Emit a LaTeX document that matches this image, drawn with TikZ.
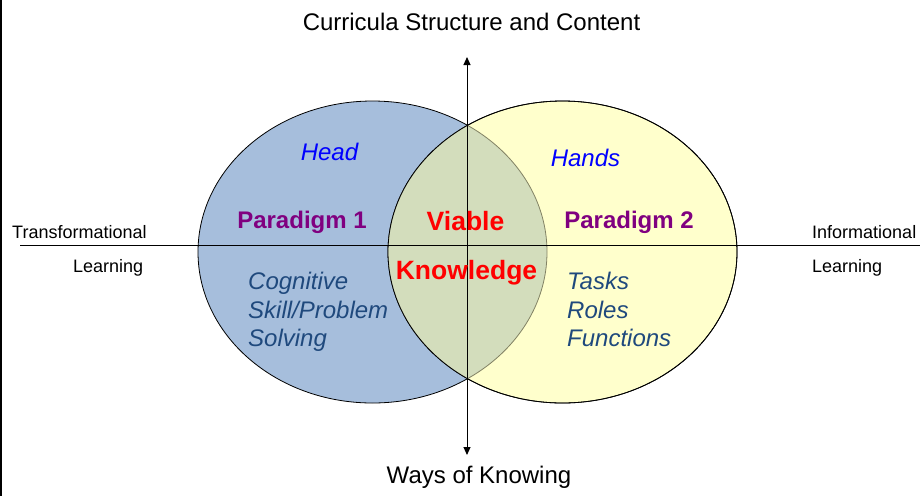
\documentclass[tikz,border=0pt]{standalone}
\usepackage{fontspec}
\setmainfont{Liberation Sans}
\usetikzlibrary{arrows.meta}

\definecolor{bleuTete}{RGB}{166,190,220}
\definecolor{jauneMains}{RGB}{255,255,204}
\definecolor{vertViable}{RGB}{211,221,188}
\definecolor{bordViable}{RGB}{130,130,100}
\definecolor{texteListe}{RGB}{31,73,125}
\definecolor{paradigme}{RGB}{128,0,128}

\tikzset{axe/.style = {line width = 1pt,
                       {Triangle[length=8pt,width=7pt]}-{Triangle[length=8pt,width=7pt]}},
         trait/.style = {line width = 1pt},
         bord/.style = {line width = 0.8pt},
         titre/.style = {inner sep = 0, font = \fontsize{24}{28}\selectfont},
         cote/.style = {inner sep = 0, font = \fontsize{18}{22}\selectfont},
         organe/.style = {inner sep = 0, text = blue, font = \fontsize{24}{28}\selectfont\itshape},
         para/.style = {inner sep = 0, text = paradigme, font = \fontsize{24}{28}\selectfont\bfseries},
         viable/.style = {inner sep = 0, text = red, font = \fontsize{26.5}{30}\selectfont\bfseries},
         liste/.style = {inner sep = 0, align = left, anchor = north west, text = texteListe,
                         font = \fontsize{24}{28.5}\selectfont\itshape}
        }

\begin{document}
\begin{tikzpicture}[x=1pt, y=-1pt]
  \useasboundingbox (0, 0) rectangle (920, 496);
  \fill (0, 0) rectangle (2, 496);
  \draw[bord, fill = bleuTete] (372.5, 252) ellipse [x radius = 174.5pt, y radius = 151pt];
  \draw[bord, fill = jauneMains] (562.5, 252) ellipse [x radius = 174.5pt, y radius = 151pt];
  \begin{scope}
    \clip (562.5, 252) ellipse [x radius = 174.5pt, y radius = 151pt];
    \draw[bord, draw = bordViable, fill = vertViable] (372.5, 252) ellipse [x radius = 174.5pt, y radius = 151pt];
  \end{scope}
  \draw[bord] (562.5, 252) ellipse [x radius = 174.5pt, y radius = 151pt];

  \coordinate (haut) at (467, 57);
  \coordinate (bas) at (467, 455);
  \coordinate (gauche) at (20, 245);
  \coordinate (droite) at (920, 245);
  \draw[axe] (bas) -- (haut);
  \draw[trait] (gauche) -- (droite);

  \node (contenu) [titre, anchor = base] at (471.5, 30) {Curricula Structure and Content};
  \node (savoir) [titre, anchor = base] at (479, 483) {Ways of Knowing};
  \node (transfo) [cote, anchor = base west] at (12, 238) {Transformational};
  \node (apprG) [cote, anchor = base west] at (73, 272) {Learning};
  \node (inform) [cote, anchor = base west] at (812, 238) {Informational};
  \node (apprD) [cote, anchor = base west] at (812, 272) {Learning};

  \node (tete) [organe, anchor = base] at (329.5, 160) {Head};
  \node (mains) [organe, anchor = base] at (585.5, 166) {Hands};
  \node (para1) [para, anchor = base] at (302, 228) {Paradigm 1};
  \node (para2) [para, anchor = base] at (629, 228) {Paradigm 2};
  \node (viable) [viable, anchor = base] at (465.5, 230) {Viable};
  \node (connaissance) [viable, anchor = base] at (466.5, 279) {Knowledge};
  \node (cognitif) [liste] at (248, 272) {Cognitive\\Skill/Problem\\Solving};
  \node (taches) [liste] at (567, 272) {Tasks\\Roles\\Functions};
\end{tikzpicture}
\end{document}
